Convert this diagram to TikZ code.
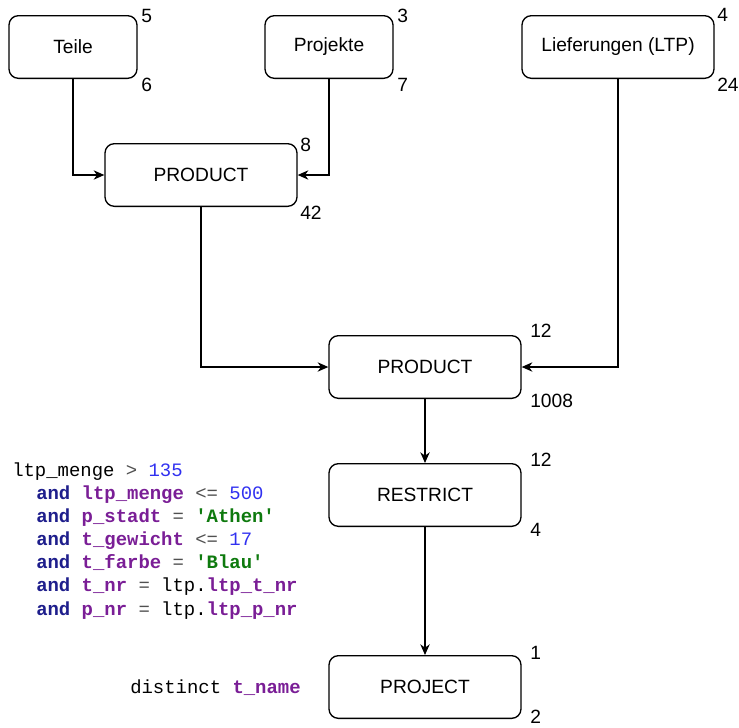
\documentclass[tikz,border=0pt]{standalone}
\usepackage{fontspec}
\setmainfont{Liberation Sans}
\newfontfamily\codefont{Liberation Mono}
\usetikzlibrary{arrows.meta}
\definecolor{kw}{HTML}{1E1E8C}
\definecolor{ident}{HTML}{7A1E96}
\definecolor{num}{HTML}{3030F0}
\definecolor{str}{HTML}{0E7A0E}
\definecolor{op}{HTML}{505050}
\newcommand{\kwd}[1]{\textbf{\textcolor{kw}{#1}}}
\newcommand{\idf}[1]{\textbf{\textcolor{ident}{#1}}}
\newcommand{\nmb}[1]{\textcolor{num}{#1}}
\newcommand{\strg}[1]{\textbf{\textcolor{str}{#1}}}
\newcommand{\opr}[1]{\textcolor{op}{#1}}
\begin{document}
\begin{tikzpicture}[x=0.75pt,y=-0.75pt,
  box/.style={draw, line width=1pt, rounded corners=7pt, inner sep=0pt,
    minimum height=47pt, font=\fontsize{14.4}{17}\selectfont},
  narrow/.style={minimum width=96pt},
  wide/.style={minimum width=144pt},
  cnt/.style={anchor=west, inner sep=0pt, font=\fontsize{14.4}{17}\selectfont},
  conn/.style={line width=1pt, -{Stealth[length=8pt,width=7pt,inset=2.5pt]}},
  code/.style={anchor=base west, inner sep=0pt, font=\codefont\fontsize{14.2}{17.4}\selectfont}]
\useasboundingbox (0,0) rectangle (739,728);

\node[box,narrow] (teile) at (73,47) {Teile};
\node[box,narrow] (proj) at (329,47) {Projekte};
\node[box,wide] (ltp) at (618,47) {Lieferungen (LTP)};
\node[box,wide] (prod1) at (201,175) {PRODUCT};
\node[box,wide] (prod2) at (425,367) {PRODUCT};
\node[box,wide] (restr) at (425,495) {RESTRICT};
\node[box,wide] (project) at (425,687) {PROJECT};

\node[cnt] (n5) at (141,16) {5};
\node[cnt] (n6) at (141,85) {6};
\node[cnt] (n3) at (397,16) {3};
\node[cnt] (n7) at (397,85) {7};
\node[cnt] (n4a) at (717,15) {4};
\node[cnt] (n24) at (717,85) {24};
\node[cnt] (n8) at (300,145) {8};
\node[cnt] (n42) at (300,213) {42};
\node[cnt] (n12a) at (530,331) {12};
\node[cnt] (n1008) at (530,401) {1008};
\node[cnt] (n12b) at (530,460) {12};
\node[cnt] (n4b) at (530,530) {4};
\node[cnt] (n1) at (530,653) {1};
\node[cnt] (n2) at (530,717) {2};

\draw[conn] (teile.south) |- (prod1.west);
\draw[conn] (proj.south) |- (prod1.east);
\draw[conn] (prod1.south) |- (prod2.west);
\draw[conn] (ltp.south) |- (prod2.east);
\draw[conn] (prod2.south) -- (restr.north);
\draw[conn] (restr.south) -- (project.north);

\node[code] (c1) at (12,476) {ltp\_menge \opr{>} \nmb{135}};
\node[code] (c2) at (36,499.2) {\kwd{and} \idf{ltp\_menge} \opr{<=} \nmb{500}};
\node[code] (c3) at (36,522.3) {\kwd{and} \idf{p\_stadt} \opr{=} \strg{\textquotesingle Athen\textquotesingle}};
\node[code] (c4) at (36,545.5) {\kwd{and} \idf{t\_gewicht} \opr{<=} \nmb{17}};
\node[code] (c5) at (36,568.7) {\kwd{and} \idf{t\_farbe} \opr{=} \strg{\textquotesingle Blau\textquotesingle}};
\node[code] (c6) at (36,591.8) {\kwd{and} \idf{t\_nr} \opr{=} ltp.\idf{ltp\_t\_nr}};
\node[code] (c7) at (36,615) {\kwd{and} \idf{p\_nr} \opr{=} ltp.\idf{ltp\_p\_nr}};
\node[code] (dist) at (130,693) {distinct \idf{t\_name}};
\end{tikzpicture}
\end{document}
